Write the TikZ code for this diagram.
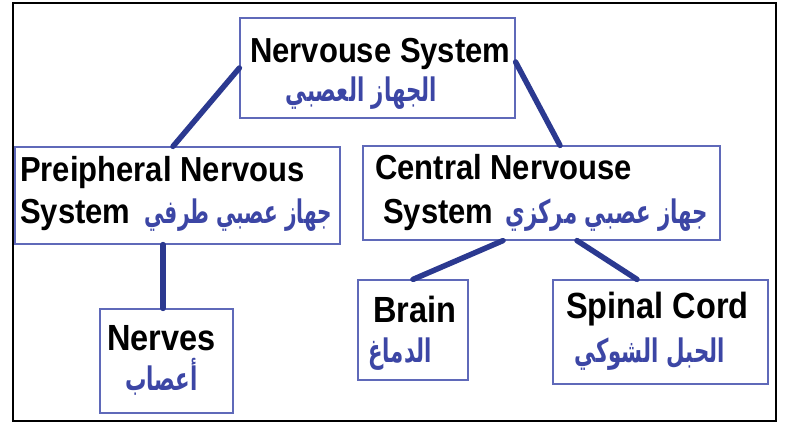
\documentclass[tikz,border=0pt]{standalone}
\usepackage{fontspec}
\setmainfont{Liberation Sans}
\newfontfamily\arabicfont[Script=Arabic]{DejaVu Sans}
\TeXXeTstate=1
\usepackage{tikz}

\definecolor{linkblue}{RGB}{43,57,144}
\definecolor{boxblue}{RGB}{95,105,185}
\definecolor{arblue}{RGB}{60,70,165}

% taller latin text, narrower arabic text
\newcommand\entall[1]{\scalebox{1}[1.12]{#1}}
\newcommand\arline[2][0.82]{\scalebox{#1}[1.25]{\beginR #2\endR}}

\tikzset{
  box/.style={draw=boxblue, line width=1.2pt, inner sep=0pt},
  entext/.style={anchor=base west, inner sep=0pt, font=\fontsize{31}{36}\selectfont\bfseries},
  bigtext/.style={entext, font=\fontsize{32.5}{38}\selectfont\bfseries},
  artext/.style={anchor=base east, inner sep=0pt, text=arblue, font=\fontsize{26}{30}\arabicfont\bfseries},
  link/.style={draw=linkblue, line width=5.5pt, line cap=round}
}

\begin{document}
\begin{tikzpicture}[x=1pt,y=-1pt]
        % frame
        \useasboundingbox (0,0) rectangle (785,425);
        \draw[line width=2.5pt] (13,3) rectangle (776,421);

        % boxes
        \node[box, minimum width=275pt, minimum height=100pt] (ns) at (377.5,68) {};
        \node[box, minimum width=325pt, minimum height=97pt] (pns) at (177.5,195.5) {};
        \node[box, minimum width=357pt, minimum height=94pt] (cns) at (541.5,193) {};
        \node[box, minimum width=133pt, minimum height=104pt] (nerves) at (166.5,361) {};
        \node[box, minimum width=110pt, minimum height=100pt] (brain) at (413,330) {};
        \node[box, minimum width=215pt, minimum height=104pt] (spinal) at (660.5,332) {};

        % texts
        \node[entext] (nsen) at (250,63) {\entall{Nervouse System}};
        \node[artext] (nsar) at (437,102) {\arline{الجهاز العصبي}};
        \node[entext] (pnsen) at (20,182) {\entall{Preipheral Nervous}};
        \node[entext] (pnssys) at (20,223) {\entall{System}};
        \node[artext] (pnsar) at (332,223) {\arline[0.77]{جهاز عصبي طرفي}};
        \node[entext] (cnsen) at (375,180) {\entall{Central Nervouse}};
        \node[entext] (cnssys) at (383,223) {\entall{System}};
        \node[artext] (cnsar) at (708,223) {\arline{جهاز عصبي مركزي}};
        \node[bigtext] (nerveen) at (107,350) {\entall{Nerves}};
        \node[artext] (nervear) at (198,390) {\arline{أعصاب}};
        \node[bigtext] (brainen) at (373,322) {\entall{Brain}};
        \node[artext] (brainar) at (432,362) {\arline{الدماغ}};
        \node[bigtext] (spinalen) at (566,318) {\entall{Spinal Cord}};
        \node[artext] (spinalar) at (725,362) {\arline{الحبل الشوكي}};

        % connectors
        \draw[link] (ns.west) -- ([xshift=-4.5pt]pns.north);
        \draw[link] ([yshift=6pt]ns.east) -- ([xshift=18.5pt]cns.north);
        \draw[link] ([xshift=-14.5pt]pns.south) -- ([xshift=-3.5pt]nerves.north);
        \draw[link] ([xshift=-38.5pt]cns.south) -- (brain.north);
        \draw[link] ([xshift=35.5pt]cns.south) -- ([xshift=-23.5pt]spinal.north);
    \end{tikzpicture}
\end{document}
